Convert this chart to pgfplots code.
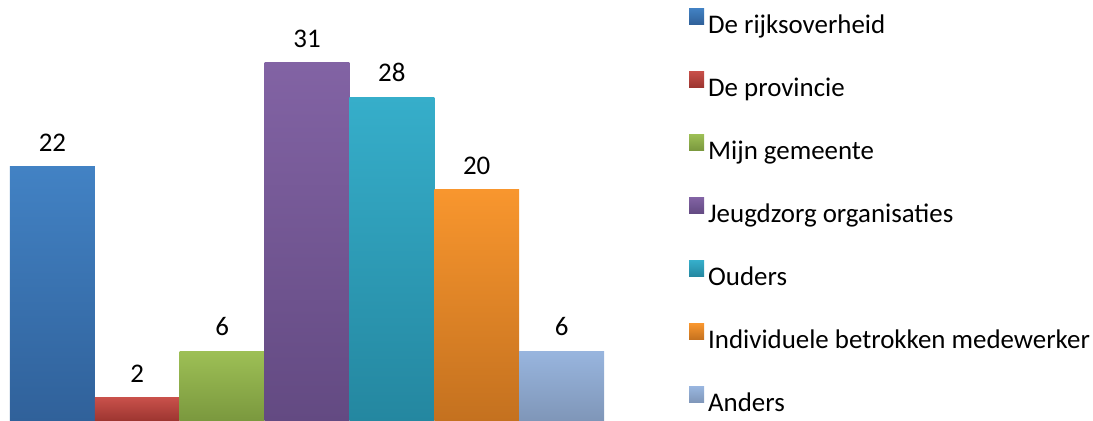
\documentclass[border=0pt]{standalone}
\usepackage{fontspec}
\setmainfont{Carlito}
\usepackage{pgfplots}
\pgfplotsset{compat=1.18}

\definecolor{blT}{HTML}{4282C4}\definecolor{blB}{HTML}{30619A}
\definecolor{reT}{HTML}{C8504A}\definecolor{reB}{HTML}{9C3530}
\definecolor{grT}{HTML}{9DBF55}\definecolor{grB}{HTML}{7A983E}
\definecolor{puT}{HTML}{8263A4}\definecolor{puB}{HTML}{634A82}
\definecolor{teT}{HTML}{36AECA}\definecolor{teB}{HTML}{2487A0}
\definecolor{orT}{HTML}{F8962E}\definecolor{orB}{HTML}{C4711F}
\definecolor{lbT}{HTML}{98B5DE}\definecolor{lbB}{HTML}{7F96B8}

\newcommand{\lfont}{\fontsize{27}{31}\selectfont}

\begin{document}
\begin{tikzpicture}
\useasboundingbox (0,0) rectangle (1093bp,421bp);
\begin{axis}[
  at={(10bp,0)}, anchor=south west,
  scale only axis, width=594bp, height=421bp,
  ybar, bar width=84.86bp, bar shift=0pt,
  xmin=-0.5, xmax=6.5, ymin=0, ymax=36.45,
  axis lines=none, xtick=\empty, ytick=\empty,
  clip=false,
  nodes near coords,
  /pgf/number format/assume math mode=true,
  every node near coord/.append style={font=\lfont, text=black, anchor=south, yshift=12bp},
  legend cell align=left,
  legend style={draw=none, fill=none, font=\lfont,
    at={(axis description cs:1.138,0.986)}, anchor=north west,
    nodes={text height=18bp, text depth=6bp, inner sep=0pt},
    row sep=32.1bp, column sep=4bp},
  legend image code/.code={\path[#1, draw=none] (0,3bp) rectangle (15bp,19bp);},
]
\addplot[draw=none, top color=blT, bottom color=blB] coordinates {(0,22)};
\addplot[draw=none, top color=reT, bottom color=reB] coordinates {(1,2)};
\addplot[draw=none, top color=grT, bottom color=grB] coordinates {(2,6)};
\addplot[draw=none, top color=puT, bottom color=puB] coordinates {(3,31)};
\addplot[draw=none, top color=teT, bottom color=teB] coordinates {(4,28)};
\addplot[draw=none, top color=orT, bottom color=orB] coordinates {(5,20)};
\addplot[draw=none, top color=lbT, bottom color=lbB] coordinates {(6,6)};
\legend{De rijksoverheid, De provincie, Mijn gemeente, Jeugdzorg organisaties, Ouders, Individuele betrokken medewerker, Anders}
\end{axis}
\end{tikzpicture}
\end{document}
